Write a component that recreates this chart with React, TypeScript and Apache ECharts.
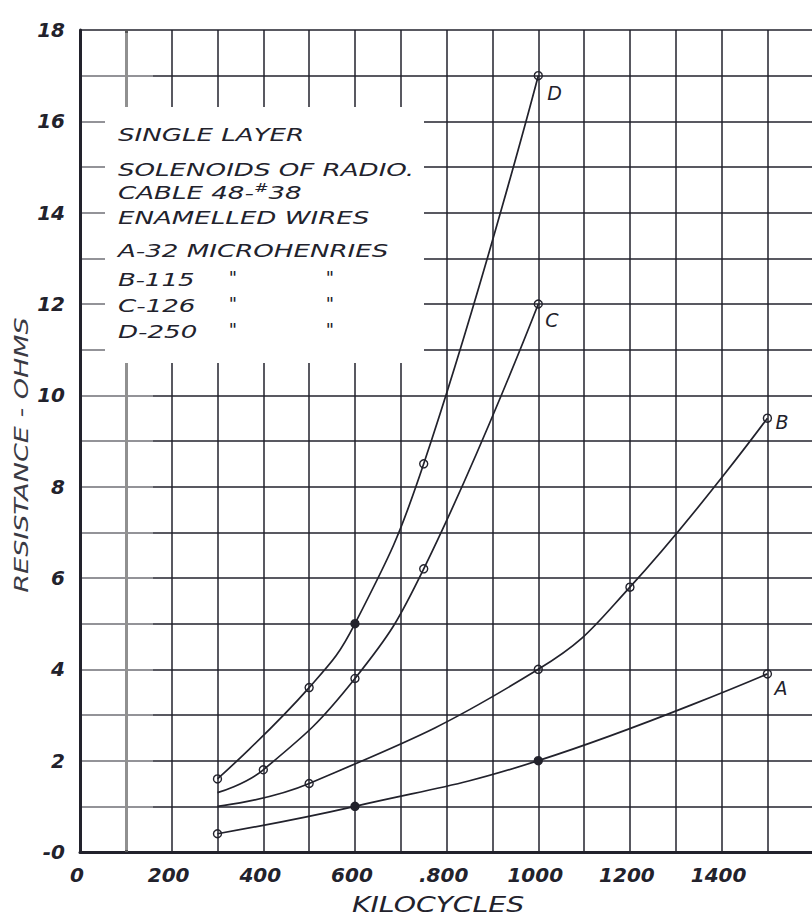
import React, { useEffect, useRef } from "react";
import * as echarts from "echarts";

// ---- data ----
const curveNames = ["A", "B", "C", "D"];
const kcA = [300, 600, 1000, 1500];
const ohmA = [0.4, 1.0, 2.0, 3.9];
const kcB = [300, 500, 1000, 1200, 1500];
const ohmB = [1.0, 1.5, 4.0, 5.8, 9.5];
const kcC = [300, 400, 600, 750, 1000];
const ohmC = [1.3, 1.8, 3.8, 6.2, 12.0];
const kcD = [300, 500, 600, 750, 1000];
const ohmD = [1.6, 3.6, 5.0, 8.5, 17.0];

const xTickValues = [0, 200, 400, 600, 800, 1000, 1200, 1400];
const xTickLabels = ["0", "200", "400", "600", ".800", "1000", "1200", "1400"];
const yTickValues = [0, 2, 4, 6, 8, 10, 12, 14, 16, 18];
const yTickLabels = ["-0", "2", "4", "6", "8", "10", "12", "14", "16", "18"];

const noteLines = [
  "SINGLE LAYER",
  "SOLENOIDS OF RADIO.",
  "CABLE 48-{s|#}38",
  "ENAMELLED WIRES",
  "A-32 MICROHENRIES",
];
const inductanceLines = ["B-115", "C-126", "D-250"];
const xAxisName = "KILOCYCLES";
const yAxisName = "RESISTANCE - OHMS";

// ---- styling ----
const INK = "#22222c";
const FONT = '"DejaVu Sans", sans-serif';

export default function App() {
  const ref = useRef<HTMLDivElement>(null);

  useEffect(() => {
    if (!ref.current) return;
    const chart = echarts.init(ref.current, null, { renderer: "svg" });

    const kcs = [kcA, kcB, kcC, kcD];
    const ohms = [ohmA, ohmB, ohmC, ohmD];
    // markers: hidden start points and filled dots (styling, by series index)
    const hiddenMarkers: Record<string, number[]> = { B: [0], C: [0] };
    const filledMarkers: Record<string, number[]> = { A: [1, 2], D: [2] };
    const labelOffsets: Record<string, number[]> = {
      A: [-1, 14],
      B: [0, 4],
      C: [-1, 16],
      D: [1, 17],
    };

    const series: any[] = curveNames.map((name, si) => {
      const data = kcs[si].map((kc, i) => {
        const item: any = { value: [kc, ohms[si][i]] };
        if ((hiddenMarkers[name] || []).includes(i)) item.symbol = "none";
        if ((filledMarkers[name] || []).includes(i))
          item.itemStyle = { color: INK };
        return item;
      });
      const s: any = {
        type: "line",
        name,
        data,
        smooth: 0.45,
        symbol: "circle",
        symbolSize: 8,
        showAllSymbol: true,
        lineStyle: { color: INK, width: 1.7 },
        itemStyle: {
          color: "rgba(255,255,255,0)",
          borderColor: INK,
          borderWidth: 1.4,
        },
        emphasis: { disabled: true },
        endLabel: {
          show: true,
          formatter: name,
          color: INK,
          fontFamily: FONT,
          fontStyle: "italic",
          fontSize: 19,
          offset: labelOffsets[name],
        },
      };
      if (si === 0) {
        s.markLine = {
          silent: true,
          symbol: ["none", "none"],
          label: { show: false },
          lineStyle: { color: "#555", width: 3, type: "solid" },
          data: [{ xAxis: 100 }],
        };
      }
      return s;
    });

    const noteCenters = [135, 170, 193, 218, 251];
    const indCenters = [280, 306, 332];
    const graphic: any[] = [
      {
        type: "rect",
        z: 10,
        shape: { x: 105, y: 107, width: 319, height: 256 },
        style: { fill: "#fff" },
      },
      {
        type: "rect",
        z: 10,
        shape: { x: 82, y: 33, width: 71, height: 817 },
        style: { fill: "rgba(255,255,255,0.35)" },
      },
    ];
    noteLines.forEach((t, i) => {
      graphic.push({
        type: "text",
        z: 11,
        x: 118,
        y: noteCenters[i],
        scaleX: 1.45,
        style: {
          text: t,
          fill: INK,
          fontFamily: FONT,
          fontStyle: "italic",
          fontSize: 18,
          align: "left",
          verticalAlign: "middle",
          rich: {
            s: {
              fontFamily: FONT,
              fontStyle: "italic",
              fontSize: 12,
              fill: INK,
              verticalAlign: "top",
              padding: [0, 0, 10, 0],
            },
          },
        },
      });
    });
    inductanceLines.forEach((t, i) => {
      graphic.push({
        type: "text",
        z: 11,
        x: 118,
        y: indCenters[i],
        scaleX: 1.45,
        style: {
          text: t,
          fill: INK,
          fontFamily: FONT,
          fontStyle: "italic",
          fontSize: 18,
          align: "left",
          verticalAlign: "middle",
        },
      });
      [233, 330].forEach((dx) => {
        graphic.push({
          type: "text",
          z: 11,
          x: dx,
          y: indCenters[i] - 3,
          style: {
            text: '"',
            fill: INK,
            fontFamily: FONT,
            fontStyle: "italic",
            fontSize: 18,
            align: "center",
            verticalAlign: "middle",
          },
        });
      });
    });
    graphic.push({
      type: "text",
      z: 11,
      x: 21,
      y: 455,
      rotation: Math.PI / 2,
      scaleX: 1.42,
      style: {
        text: yAxisName,
        fill: "#3a3a44",
        fontFamily: FONT,
        fontStyle: "italic",
        fontSize: 19,
        align: "center",
        verticalAlign: "middle",
      },
    });
    graphic.push({
      type: "text",
      z: 11,
      x: 438,
      y: 905,
      scaleX: 1.35,
      style: {
        text: xAxisName,
        fill: INK,
        fontFamily: FONT,
        fontStyle: "italic",
        fontSize: 21,
        align: "center",
        verticalAlign: "middle",
      },
    });

    const tickLabelStyle = {
      color: INK,
      fontFamily: FONT,
      fontStyle: "italic" as const,
      fontWeight: "bold" as const,
      fontSize: 20,
    };

    chart.setOption({
      animation: false,
      backgroundColor: "#ffffff",
      grid: { left: 80, right: 0, top: 30, bottom: 70, containLabel: false },
      xAxis: {
        type: "value",
        min: 0,
        max: 1630,
        interval: 100,
        axisLine: { show: true, onZero: false, lineStyle: { color: INK, width: 3 } },
        axisTick: { show: false },
        splitLine: { show: true, lineStyle: { color: INK, width: 1.5 } },
        axisLabel: {
          ...tickLabelStyle,
          margin: 13,
          padding: [0, 6, 0, 0],
          formatter: (v: number) => {
            const i = xTickValues.indexOf(v);
            return i >= 0 ? xTickLabels[i] : "";
          },
        },
      },
      yAxis: {
        type: "value",
        min: 0,
        max: 18,
        interval: 1,
        axisLine: { show: true, onZero: false, lineStyle: { color: INK, width: 3 } },
        axisTick: { show: false },
        splitLine: { show: true, lineStyle: { color: INK, width: 1.5 } },
        axisLabel: {
          ...tickLabelStyle,
          margin: 15,
          formatter: (v: number) => {
            const i = yTickValues.indexOf(v);
            return i >= 0 ? yTickLabels[i] : "";
          },
        },
      },
      series,
      graphic,
    });

    return () => chart.dispose();
  }, []);

  return (
    <div
      style={{
        position: "absolute",
        left: 0,
        top: 0,
        width: 812,
        height: 922,
        overflow: "hidden",
        background: "#fff",
      }}
    >
      <div ref={ref} style={{ width: 830, height: 922 }} />
    </div>
  );
}
